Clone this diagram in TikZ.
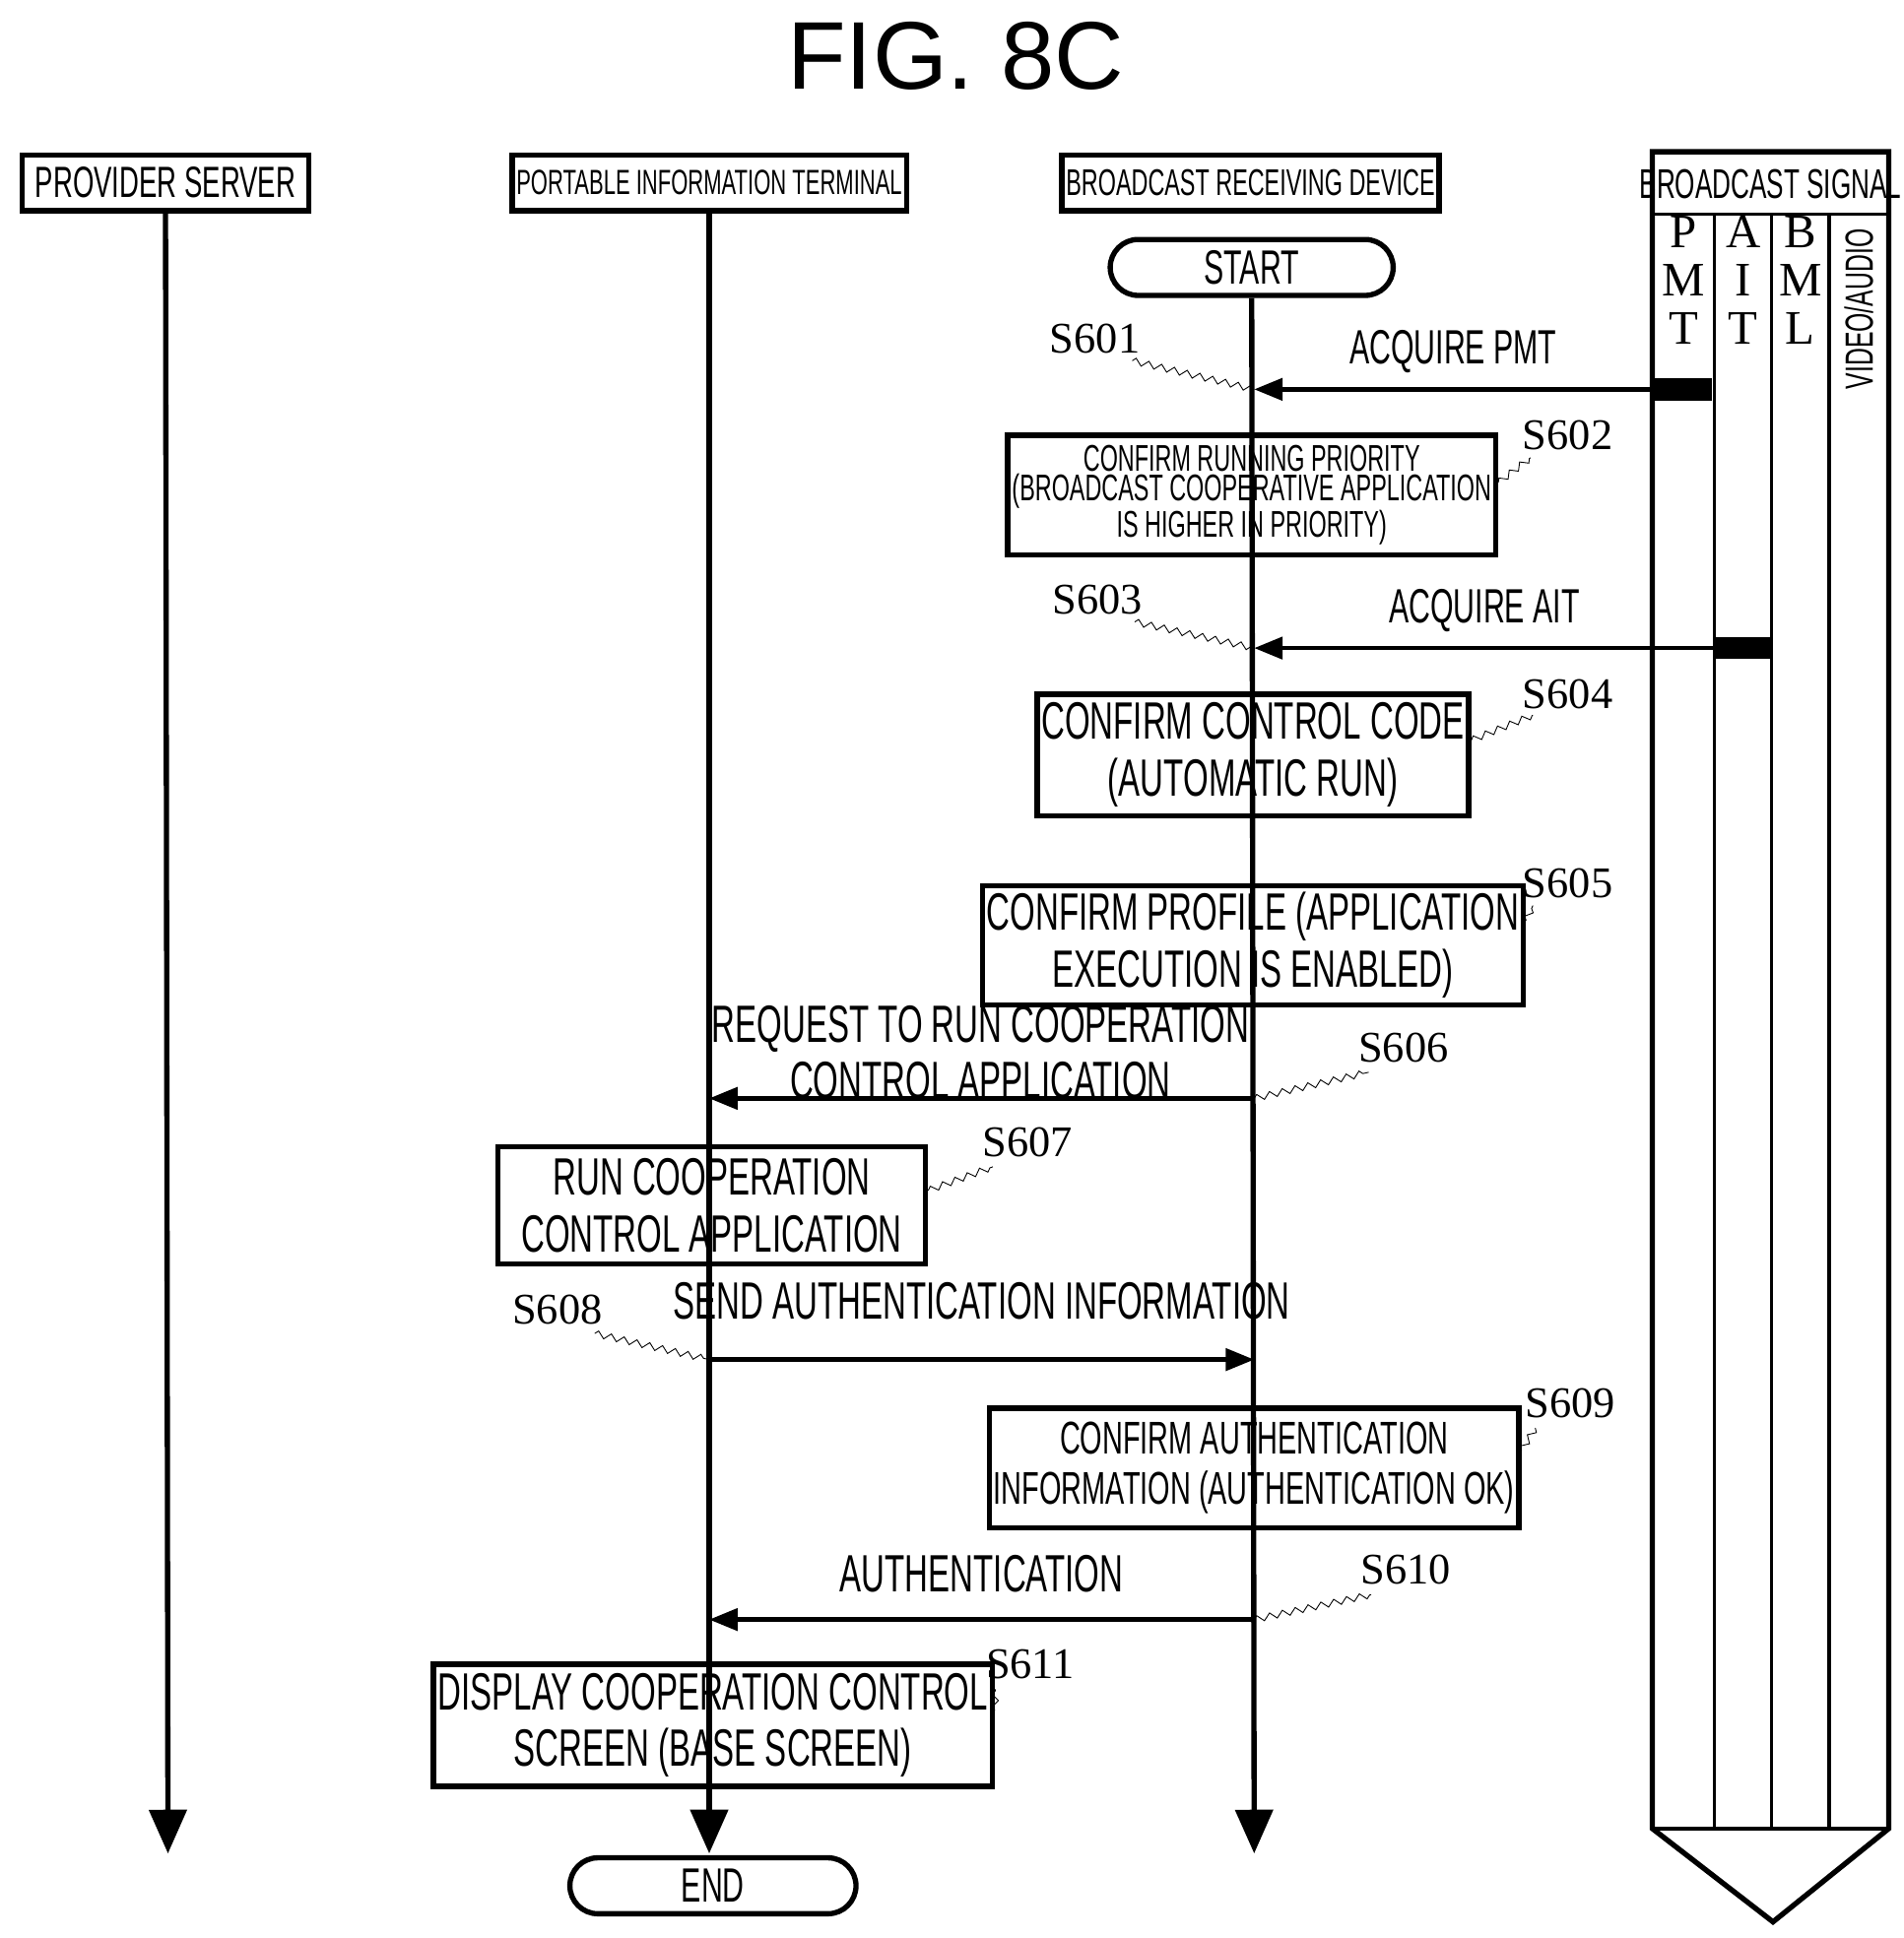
\documentclass[tikz,border=0pt]{standalone}
\usepackage{fontspec}
\setmainfont{Liberation Serif}
\newfontfamily\cond[FakeStretch=0.62]{Liberation Sans}
\newfontfamily\titlef{Liberation Sans}
\usetikzlibrary{arrows.meta,decorations.pathmorphing}

\tikzset{
	box/.style={draw, line width=2.4pt, align=center, inner sep=2pt, font=\cond\fontsize{22}{24}\selectfont},
	head/.style={box, font=\cond\fontsize{20}{22}\selectfont, minimum height=0.9cm},
	term/.style={box, rounded corners=0.45cm, minimum height=0.9cm},
	life/.style={line width=2.4pt, -{Triangle[width=17pt,length=20pt]}},
	msg/.style={line width=2pt, -{Triangle[width=10pt,length=13pt]}},
	stp/.style={font=\fontsize{20}{22}\selectfont},
	wig/.style={thin, decorate, decoration={zigzag, amplitude=1.5pt, segment length=6pt}},
	lbl/.style={font=\cond\fontsize{22}{24}\selectfont, align=center},
}

\begin{document}
\begin{tikzpicture}[x=0.02cm, y=-0.02cm]
	\useasboundingbox (0,0) rectangle (1530,1558);

	\node[font=\titlef\fontsize{44}{48}\selectfont] (title) at (768,45) {FIG. 8C};

	% lifeline headers
	\node[head, minimum width=4.6cm] (prov) at (133,147) {PROVIDER SERVER};
	\node[head, minimum width=4.6cm, font=\cond\fontsize{16}{18}\selectfont] (port) at (570,147) {PORTABLE INFORMATION TERMINAL};
	\node[head, minimum width=4.6cm, font=\cond\fontsize{17}{19}\selectfont] (bcr) at (1005,147) {BROADCAST RECEIVING DEVICE};
	\node[term, minimum width=4.55cm] (startT) at (1006,215) {START};
	\node[term, minimum width=4.6cm] (endT) at (573,1516) {END};

	\coordinate (provE) at (135,1490);
	\coordinate (portE) at (570,1490);
	\coordinate (bcrE) at (1008,1490);
	\draw[life] (prov) -- (provE);
	\draw[life] (port) -- (portE);
	\draw[life] (startT) -- (bcrE);

	% broadcast signal
	\draw[line width=2.4pt] (1328,122) -- (1518,122) -- (1518,1470) -- (1425,1545) -- (1328,1470) -- cycle;
	\draw[line width=1.5pt] (1328,172) -- (1518,172) (1328,1470) -- (1518,1470);
	\foreach \x in {1378,1424,1470}
		\draw[line width=1.5pt] (\x,172) -- (\x,1470);
	\node[font=\cond\fontsize{19}{21}\selectfont] (bsig) at (1423,148) {BROADCAST SIGNAL};
	\node[align=center, font=\fontsize{22}{22}\selectfont] (pmt) at (1353,225) {P\\M\\T};
	\node[align=center, font=\fontsize{22}{22}\selectfont] (ait) at (1401,225) {A\\I\\T};
	\node[align=center, font=\fontsize{22}{22}\selectfont] (bml) at (1447,225) {B\\M\\L};
	\node[rotate=90, anchor=east, font=\cond\fontsize{18}{20}\selectfont] (va) at (1494,178) {VIDEO/AUDIO};
	\fill (1328,304) rectangle (1376,322);
	\fill (1378,512) rectangle (1424,530);
	\coordinate (pmtS) at (1328,313);
	\coordinate (aitS) at (1378,521);

	% steps on broadcast receiving device
	\coordinate (r1) at (1008,313);
	\draw[msg] (pmtS) -- node[lbl, above=3pt] {ACQUIRE PMT} (r1);
	\node[stp] (s601) at (880,272) {S601};
	\draw[wig] (910,290) -- (r1);

	\node[box, minimum width=6.86cm, minimum height=1.92cm, font=\cond\fontsize{17}{13.5}\selectfont] (b602) at (1006,398) {CONFIRM RUNNING PRIORITY\\(BROADCAST COOPERATIVE APPLICATION\\IS HIGHER IN PRIORITY)};
	\node[stp] (s602) at (1260,350) {S602};
	\draw[wig] (b602.east) ++(0,-10) -- (1230,368);

	\coordinate (r3) at (1008,521);
	\draw[msg] (aitS) -- node[lbl, above=3pt] {ACQUIRE AIT} (r3);
	\node[stp] (s603) at (882,482) {S603};
	\draw[wig] (912,500) -- (r3);

	\node[box, minimum width=6.84cm, minimum height=1.96cm, font=\cond\fontsize{24}{26}\selectfont] (b604) at (1007,607) {CONFIRM CONTROL CODE\\(AUTOMATIC RUN)};
	\node[stp] (s604) at (1260,558) {S604};
	\draw[wig] (b604.east) ++(0,-12) -- (1232,575);

	\node[box, minimum width=6.84cm, minimum height=1.92cm, font=\cond\fontsize{24}{26}\selectfont] (b605) at (1007,760) {CONFIRM PROFILE (APPLICATION\\EXECUTION IS ENABLED)};
	\node[stp] (s605) at (1260,710) {S605};
	\draw[wig] (b605.east) ++(0,-20) -- (1232,728);

	\coordinate (r6) at (1008,883);
	\coordinate (p6) at (570,883);
	\draw[msg] (r6) -- (p6);
	\node[lbl, font=\cond\fontsize{24}{26}\selectfont] (l606) at (788,846) {REQUEST TO RUN COOPERATION\\CONTROL APPLICATION};
	\node[stp] (s606) at (1128,842) {S606};
	\draw[wig] (r6) -- (1100,862);

	% steps on portable information terminal
	\node[box, minimum width=6.88cm, minimum height=1.88cm, font=\cond\fontsize{24}{26}\selectfont] (b607) at (572,969) {RUN COOPERATION\\CONTROL APPLICATION};
	\node[stp] (s607) at (826,918) {S607};
	\draw[wig] (b607.east) ++(0,-12) -- (798,938);

	\coordinate (p8) at (570,1093);
	\coordinate (r8) at (1008,1093);
	\draw[msg] (p8) -- node[lbl, above=14pt, font=\cond\fontsize{24}{26}\selectfont] {SEND AUTHENTICATION INFORMATION} (r8);
	\node[stp] (s608) at (448,1053) {S608};
	\draw[wig] (478,1072) -- (p8);

	\node[box, minimum width=6.88cm, minimum height=1.92cm, font=\cond\fontsize{21}{23}\selectfont] (b609) at (1008,1180) {CONFIRM AUTHENTICATION\\INFORMATION (AUTHENTICATION OK)};
	\node[stp] (s609) at (1262,1128) {S609};
	\draw[wig] (b609.east) ++(0,-14) -- (1234,1148);

	\coordinate (r10) at (1008,1302);
	\coordinate (p10) at (570,1302);
	\draw[msg] (r10) -- node[lbl, above=8pt, font=\cond\fontsize{24}{26}\selectfont] {AUTHENTICATION} (p10);
	\node[stp] (s610) at (1130,1262) {S610};
	\draw[wig] (r10) -- (1102,1282);

	\node[box, minimum width=6.92cm, minimum height=1.96cm, font=\cond\fontsize{24}{26}\selectfont] (b611) at (573,1387) {DISPLAY COOPERATION CONTROL\\SCREEN (BASE SCREEN)};
	\node[stp] (s611) at (828,1338) {S611};
	\draw[wig] (b611.east) ++(0,-12) -- (800,1358);
\end{tikzpicture}
\end{document}
